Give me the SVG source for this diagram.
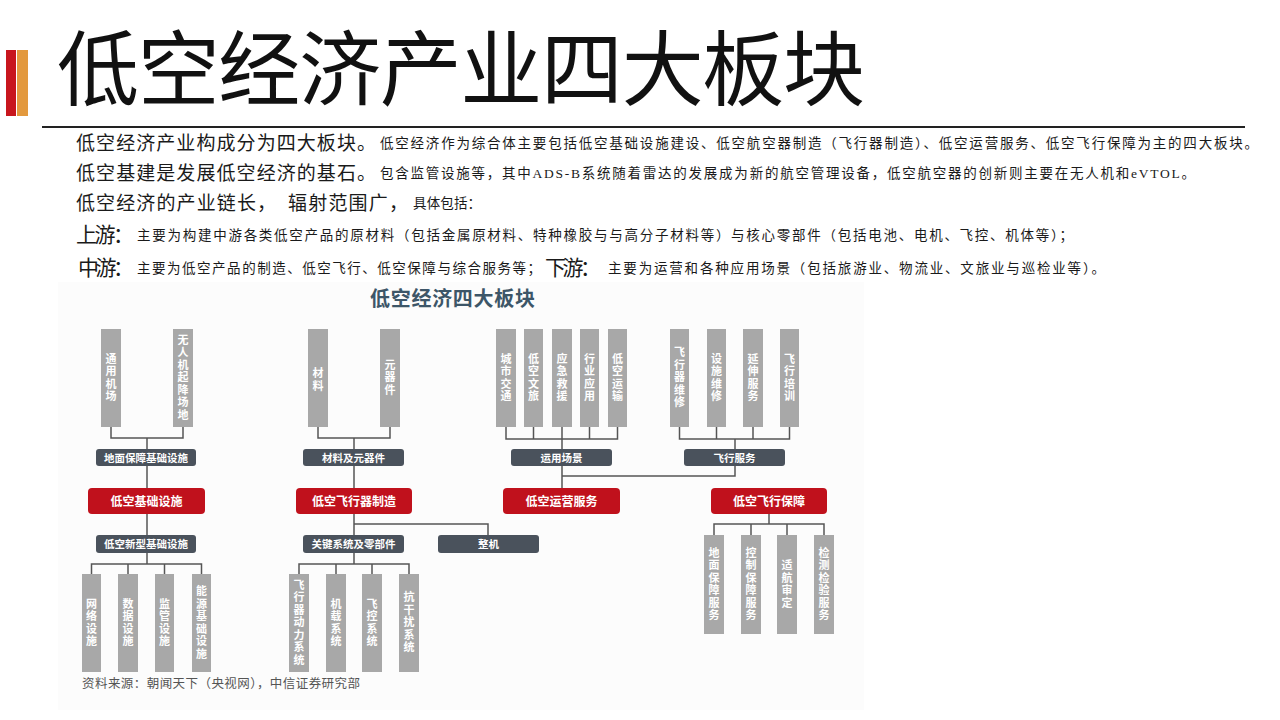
<svg xmlns="http://www.w3.org/2000/svg" width="1280" height="720" viewBox="0 0 1280 720">
<defs>
<style>
.t{font-family:"Liberation Serif","Noto Sans CJK SC",serif;fill:#1a1a1a}
.big{font-size:19px}
.sm{font-size:13.5px}
.title{font-family:"Noto Sans CJK SC",sans-serif;font-size:82px;fill:#111}
.dt{font-family:"Noto Sans CJK SC",sans-serif;font-size:20px;font-weight:bold;fill:#3d5668}
.bar{fill:#a8a8a8}
.vt{font-family:"Noto Sans CJK SC",sans-serif;font-size:11px;font-weight:bold;fill:#fff;text-anchor:middle;writing-mode:vertical-rl;letter-spacing:1.5px}
.red{fill:#c0111c}
.dark{fill:#4a525c}
.rt{font-family:"Noto Sans CJK SC",sans-serif;font-size:12px;font-weight:bold;fill:#fff;text-anchor:middle}
.dkt{font-family:"Noto Sans CJK SC",sans-serif;font-size:10.5px;font-weight:bold;fill:#fff;text-anchor:middle}
.src{font-family:"Noto Sans CJK SC",sans-serif;font-size:12.5px;fill:#555}
.con{fill:none;stroke:#555;stroke-width:1.5}
</style>
</defs>
<rect width="1280" height="720" fill="#fff"/>
<rect x="58" y="282" width="806" height="428" fill="#fcfcfc"/>

<g id="header">
<rect x="6" y="50" width="10" height="66" fill="#c8161d"/>
<rect x="17" y="50" width="11" height="66" fill="#e3993e"/>
<text class="title" x="57" y="99" textLength="808" lengthAdjust="spacing">低空经济产业四大板块</text>
<line x1="42" y1="127" x2="1245" y2="127" stroke="#222" stroke-width="2"/>
</g>

<g id="intro">
<text class="t big" x="76" y="150" textLength="300" lengthAdjust="spacing">低空经济产业构成分为四大板块。</text>
<text class="t sm" x="380" y="148" textLength="878" lengthAdjust="spacing">低空经济作为综合体主要包括低空基础设施建设、低空航空器制造（飞行器制造）、低空运营服务、低空飞行保障为主的四大板块。</text>
<text class="t big" x="76" y="180" textLength="300" lengthAdjust="spacing">低空基建是发展低空经济的基石。</text>
<text class="t sm" x="380" y="178" textLength="815" lengthAdjust="spacing">包含监管设施等，其中ADS-B系统随着雷达的发展成为新的航空管理设备，低空航空器的创新则主要在无人机和eVTOL。</text>
<text class="t big" x="76" y="210" textLength="200" lengthAdjust="spacing">低空经济的产业链长，</text>
<text class="t big" x="288" y="210" textLength="120" lengthAdjust="spacing">辐射范围广，</text>
<text class="t sm" x="413" y="208" textLength="68" lengthAdjust="spacing">具体包括：</text>
<text class="t" x="76" y="242" font-size="21" textLength="58" lengthAdjust="spacing">上游：</text>
<text class="t sm" x="137" y="240" textLength="936" lengthAdjust="spacing">主要为构建中游各类低空产品的原材料（包括金属原材料、特种橡胶与与高分子材料等）与核心零部件（包括电池、电机、飞控、机体等）；</text>
<text class="t" x="78" y="275" font-size="21" textLength="56" lengthAdjust="spacing">中游：</text>
<text class="t sm" x="137" y="273" textLength="404" lengthAdjust="spacing">主要为低空产品的制造、低空飞行、低空保障与综合服务等；</text>
<text class="t" x="545" y="275" font-size="21" textLength="56" lengthAdjust="spacing">下游：</text>
<text class="t sm" x="608" y="273" textLength="497" lengthAdjust="spacing">主要为运营和各种应用场景（包括旅游业、物流业、文旅业与巡检业等）。</text>
</g>

<g id="diagram-title">
<text class="dt" x="370" y="306" textLength="165" lengthAdjust="spacing">低空经济四大板块</text>
</g>

<g id="connectors">
<path class="con" d="M111 427V438H183V427M147 438V449M147 466V488M147 514V535M147 553V564M91.5 574V564H201.5V574M128 564V574M164.5 564V574"/>
<path class="con" d="M318 427V438H390V427M354 438V449M354 466V488M354 514V535M354 524H488V535M354 553V564M299 574V564H409V574M336 564V574M372 564V574"/>
<path class="con" d="M506 427V439H617.5V427M533.5 427V439M562 427V439M589.5 427V439M562 439V449M562 466V488"/>
<path class="con" d="M679.5 427V439H789.5V427M716.5 427V439M753 427V439M735 439V449M735 466V476H562"/>
<path class="con" d="M769 514V524M714 535V524H824V535M751 524V535M787 524V535"/>
</g>

<g id="n-tongyongjichang"><rect class="bar" x="101" y="329" width="20" height="98"/><text class="vt" x="111" y="378">通用机场</text></g>
<g id="n-wurenji"><rect class="bar" x="173" y="329" width="20" height="98"/><text class="vt" x="183" y="378">无人机起降场地</text></g>
<g id="n-cailiao"><rect class="bar" x="308" y="329" width="20" height="98"/><text class="vt" x="318" y="380">材料</text></g>
<g id="n-yuanqijian"><rect class="bar" x="380" y="329" width="20" height="98"/><text class="vt" x="390" y="378">元器件</text></g>
<g id="n-chengshijiaotong"><rect class="bar" x="496" y="329" width="20" height="98"/><text class="vt" x="506" y="378">城市交通</text></g>
<g id="n-wenlv"><rect class="bar" x="524" y="329" width="19" height="98"/><text class="vt" x="533.5" y="378">低空文旅</text></g>
<g id="n-yingji"><rect class="bar" x="552" y="329" width="20" height="98"/><text class="vt" x="562" y="378">应急救援</text></g>
<g id="n-hangye"><rect class="bar" x="580" y="329" width="19" height="98"/><text class="vt" x="589.5" y="378">行业应用</text></g>
<g id="n-yunshu"><rect class="bar" x="608" y="329" width="19" height="98"/><text class="vt" x="617.5" y="378">低空运输</text></g>
<g id="n-weixiu"><rect class="bar" x="670" y="329" width="19" height="98"/><text class="vt" x="679.5" y="378">飞行器维修</text></g>
<g id="n-sheshi"><rect class="bar" x="707" y="329" width="19" height="98"/><text class="vt" x="716.5" y="378">设施维修</text></g>
<g id="n-yanshen"><rect class="bar" x="743" y="329" width="20" height="98"/><text class="vt" x="753" y="378">延伸服务</text></g>
<g id="n-peixun"><rect class="bar" x="780" y="329" width="19" height="98"/><text class="vt" x="789.5" y="378">飞行培训</text></g>

<g id="n-dimianbaozhang"><rect class="dark" x="96" y="449" width="100" height="17" rx="3"/><text class="dkt" x="146" y="461.5">地面保障基础设施</text></g>
<g id="n-cailiaoyuanqijian"><rect class="dark" x="303" y="449" width="101" height="17" rx="3"/><text class="dkt" x="353.5" y="461.5">材料及元器件</text></g>
<g id="n-yunyongchangjing"><rect class="dark" x="511" y="449" width="101" height="17" rx="3"/><text class="dkt" x="561.5" y="461.5">运用场景</text></g>
<g id="n-feixingfuwu"><rect class="dark" x="684" y="449" width="101" height="17" rx="3"/><text class="dkt" x="734.5" y="461.5">飞行服务</text></g>

<g id="n-jichusheshi"><rect class="red" x="88" y="488" width="117" height="26" rx="4"/><text class="rt" x="146.5" y="505.5">低空基础设施</text></g>
<g id="n-feixingqizhizao"><rect class="red" x="296" y="488" width="116" height="26" rx="4"/><text class="rt" x="354" y="505.5">低空飞行器制造</text></g>
<g id="n-yunyingfuwu"><rect class="red" x="503" y="488" width="117" height="26" rx="4"/><text class="rt" x="561.5" y="505.5">低空运营服务</text></g>
<g id="n-feixingbaozhang"><rect class="red" x="711" y="488" width="116" height="26" rx="4"/><text class="rt" x="769" y="505.5">低空飞行保障</text></g>

<g id="n-xinxingjichu"><rect class="dark" x="96" y="535" width="100" height="18" rx="3"/><text class="dkt" x="146" y="548">低空新型基础设施</text></g>
<g id="n-guanjianxitong"><rect class="dark" x="303" y="535" width="101" height="18" rx="3"/><text class="dkt" x="353.5" y="548">关键系统及零部件</text></g>
<g id="n-zhengji"><rect class="dark" x="438" y="535" width="101" height="18" rx="3"/><text class="dkt" x="488.5" y="548">整机</text></g>

<g id="n-wangluo"><rect class="bar" x="82" y="574" width="19" height="98"/><text class="vt" x="91.5" y="623">网络设施</text></g>
<g id="n-shuju"><rect class="bar" x="118" y="574" width="20" height="98"/><text class="vt" x="128" y="623">数据设施</text></g>
<g id="n-jianguan"><rect class="bar" x="155" y="574" width="19" height="98"/><text class="vt" x="164.5" y="623">监管设施</text></g>
<g id="n-nengyuan"><rect class="bar" x="192" y="574" width="19" height="98"/><text class="vt" x="201.5" y="623">能源基础设施</text></g>
<g id="n-dongli"><rect class="bar" x="289" y="574" width="20" height="98"/><text class="vt" x="299" y="623">飞行器动力系统</text></g>
<g id="n-jizai"><rect class="bar" x="326" y="574" width="20" height="98"/><text class="vt" x="336" y="623">机载系统</text></g>
<g id="n-feikong"><rect class="bar" x="362" y="574" width="20" height="98"/><text class="vt" x="372" y="623">飞控系统</text></g>
<g id="n-kangganrao"><rect class="bar" x="399" y="574" width="20" height="98"/><text class="vt" x="409" y="623">抗干扰系统</text></g>

<g id="n-dimianfuwu"><rect class="bar" x="704" y="535" width="20" height="99"/><text class="vt" x="714" y="584.5">地面保障服务</text></g>
<g id="n-kongzhi"><rect class="bar" x="741" y="535" width="20" height="99"/><text class="vt" x="751" y="584.5">控制保障服务</text></g>
<g id="n-shihang"><rect class="bar" x="777" y="535" width="20" height="99"/><text class="vt" x="787" y="584.5">适航审定</text></g>
<g id="n-jiance"><rect class="bar" x="814" y="535" width="20" height="99"/><text class="vt" x="824" y="584.5">检测检验服务</text></g>

<g id="source">
<text class="src" x="82" y="688" textLength="278" lengthAdjust="spacing">资料来源：朝闻天下（央视网），中信证券研究部</text>
</g>
</svg>
